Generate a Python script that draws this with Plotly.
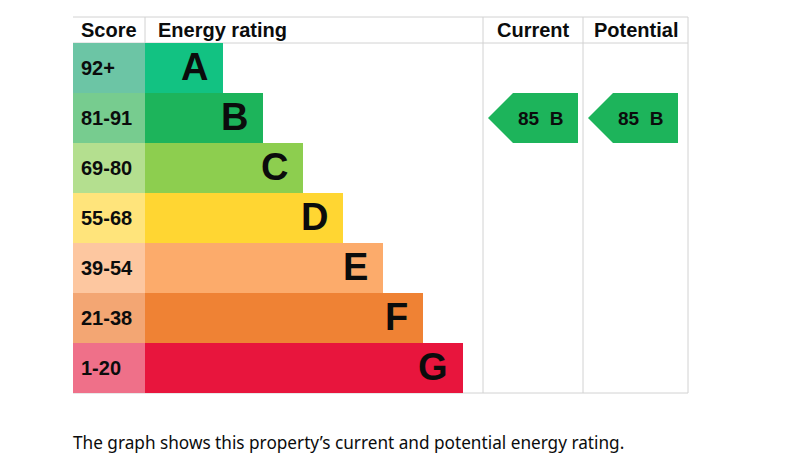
import plotly.graph_objects as go

# energy bands, top (best) to bottom
bands = ['A', 'B', 'C', 'D', 'E', 'F', 'G']
score_ranges = ['92+', '81-91', '69-80', '55-68', '39-54', '21-38', '1-20']
band_min = [92, 81, 69, 55, 39, 21, 1]
bar_colors = ['#12c282', '#1db45b', '#8dce4f', '#ffd632', '#fcab6b', '#ef8234', '#e8153d']
score_colors = ['#6cc5a5', '#77cc8f', '#b4df8f', '#ffe47b', '#fdc7a0', '#f3a673', '#ef7089']

current_score = 85
potential_score = 85

headers = ['Score', 'Energy rating', 'Current', 'Potential']
footer = 'The graph shows this property\u2019s current and potential energy rating.'

# layout in pixels (axes mapped 1:1 to the page)
W, H = 805, 471
left, score_w = 73, 72
bar_x0 = left + score_w
top, head_h, row_h = 17, 26, 50
col_cur, col_pot, col_end = 483, 583, 688
bar_len = [78 + 40 * i for i in range(len(bands))]
row_y = [top + head_h + row_h * (i + 0.5) for i in range(len(bands))]
ink = '#0b0c0c'
grid = '#d2d2d2'
arial = 'Liberation Sans'


def band_of(score):
    for i, lo in enumerate(band_min):
        if score >= lo:
            return i
    return len(bands) - 1


def bold(size):
    return dict(family=arial, size=size, color=ink, weight='bold')


fig = go.Figure()

fig.add_trace(go.Bar(
    orientation='h', y=row_y, x=[score_w] * len(bands), base=left,
    width=row_h, marker=dict(color=score_colors, line=dict(width=0)),
    hoverinfo='skip'
))
fig.add_trace(go.Bar(
    orientation='h', y=row_y, x=bar_len, base=bar_x0,
    width=row_h, marker=dict(color=bar_colors, line=dict(width=0)),
    hoverinfo='skip'
))


def add_arrow(col_left, score):
    i = band_of(score)
    y0 = top + head_h + row_h * i
    y1 = y0 + row_h
    tip = col_left + 5
    shoulder = tip + 25
    right = col_left + 95
    fig.add_trace(go.Scatter(
        x=[tip, shoulder, right, right, shoulder, tip],
        y=[(y0 + y1) / 2, y0, y0, y1, y1, (y0 + y1) / 2],
        mode='lines', fill='toself', fillcolor=bar_colors[i],
        line=dict(width=0, color=bar_colors[i]), hoverinfo='skip'
    ))
    fig.add_annotation(
        x=col_left + 57, y=(y0 + y1) / 2, xref='x', yref='y',
        text='%d\u00a0\u00a0%s' % (score, bands[i]), showarrow=False,
        font=bold(19), xanchor='center', yanchor='middle'
    )


add_arrow(col_cur, current_score)
add_arrow(col_pot, potential_score)

# row texts
for i in range(len(bands)):
    fig.add_annotation(
        x=left + 6, y=row_y[i], text=score_ranges[i],
        showarrow=False, xanchor='left', yanchor='middle', font=bold(20)
    )
    fig.add_annotation(
        x=bar_x0 + bar_len[i] - 13, y=row_y[i] - 1, text=bands[i],
        showarrow=False, xanchor='right', yanchor='middle', font=bold(38)
    )

# headers
head_y = top + head_h / 2
fig.add_annotation(x=(left + bar_x0) / 2, y=head_y, text=headers[0],
                   showarrow=False, xanchor='center', yanchor='middle', font=bold(20))
fig.add_annotation(x=bar_x0 + 11, y=head_y, text=headers[1],
                   showarrow=False, xanchor='left', yanchor='middle', font=bold(20))
fig.add_annotation(x=(col_cur + col_pot) / 2, y=head_y, text=headers[2],
                   showarrow=False, xanchor='center', yanchor='middle', font=bold(20))
fig.add_annotation(x=(col_pot + col_end) / 2, y=head_y, text=headers[3],
                   showarrow=False, xanchor='center', yanchor='middle', font=bold(20))

fig.add_annotation(x=left - 2, y=442, text=footer, showarrow=False,
                   xanchor='left', yanchor='middle',
                   font=dict(family='Noto Sans', size=17.2, color=ink))

# table lines
bottom = top + head_h + row_h * len(bands)
lines = [
    (left, top, col_end, top),
    (left, top + head_h, col_end, top + head_h),
    (left, bottom, col_end, bottom),
    (bar_x0, top, bar_x0, top + head_h),
    (col_cur, top, col_cur, bottom),
    (col_pot, top, col_pot, bottom),
    (col_end, top, col_end, bottom),
]
for x0, y0, x1, y1 in lines:
    fig.add_shape(type='line', x0=x0, y0=y0, x1=x1, y1=y1, xref='x', yref='y',
                  line=dict(color=grid, width=1), layer='below')

fig.update_layout(
    width=W, height=H,
    margin=dict(l=0, r=0, t=0, b=0),
    paper_bgcolor='white', plot_bgcolor='white',
    showlegend=False, barmode='overlay', bargap=0,
    xaxis=dict(range=[0, W], visible=False, fixedrange=True),
    yaxis=dict(range=[H, 0], visible=False, fixedrange=True),
)

fig.write_html('out.html', config={'displayModeBar': False},
               post_script="document.body.style.margin='0';")
